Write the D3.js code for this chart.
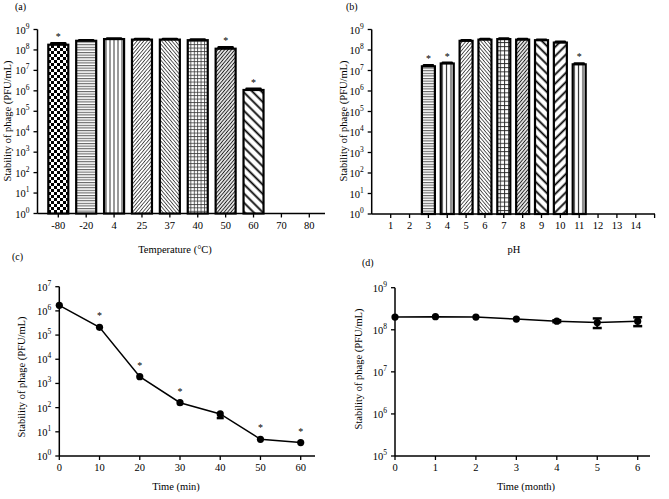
<!DOCTYPE html>
<html><head><meta charset="utf-8">
<script src="https://cdn.jsdelivr.net/npm/d3@7"></script>
<style>
body{margin:0;background:#fff;}
svg{display:block;font-family:"Liberation Serif","Times New Roman",serif;}
</style></head>
<body>
<svg id="chart" width="669" height="499"></svg>
<script>
// ---------- DATA ----------
const tempCategories = ["-80","-20","4","25","37","40","50","60","70","80"];
const tempValues = [1.8e8, 2.8e8, 3.4e8, 3.2e8, 3.2e8, 3.0e8, 1.15e8, 1.1e6, 0, 0];
const tempErrors = [0.3e8, 0.2e8, 0.2e8, 0.2e8, 0.2e8, 0.2e8, 0.2e8, 0.15e6, 0, 0];
const tempSignificant = [true, false, false, false, false, false, true, true, false, false];
const tempPatterns = ["checker","hlines","vlines","diagFine","diagFineBack","grid","diagFineDark","diagWideBack","",""];

const pHCategories = ["1","2","3","4","5","6","7","8","9","10","11","12","13","14",""];
const pHValues = [0, 0, 1.6e7, 2.2e7, 2.8e8, 3.2e8, 3.4e8, 3.2e8, 3.0e8, 2.3e8, 2.0e7, 0, 0, 0, 0];
const pHErrors = [0, 0, 0.2e7, 0.2e7, 0.2e8, 0.2e8, 0.2e8, 0.2e8, 0.2e8, 0.2e8, 0.2e7, 0, 0, 0, 0];
const pHSignificant = [false,false,true,true,false,false,false,false,false,false,true,false,false,false,false];
const pHPatterns = ["","","hlines","vlinesWide","diagFine","diagFineBack","gridBig","diagFineDark","diagWideBack","diagWide","vlinesWide","","","",""];

const timeMinutes = [0, 10, 20, 30, 40, 50, 60];
const timeValues = [1.7e6, 2.1e5, 1.9e3, 160, 55, 4.9, 3.6];
const timeErrors = [0, 0, 0, 0, 18, 0, 0];
const timeSignificant = [false, true, true, true, false, true, true];
const timeTicks = [0, 10, 20, 30, 40, 50, 60];

const monthValuesX = [0, 1, 2, 3, 4, 5, 6];
const monthValues = [2.0e8, 2.05e8, 2.0e8, 1.8e8, 1.6e8, 1.48e8, 1.6e8];
const monthErrors = [0, 0, 0, 0, 0.08e8, 0.38e8, 0.38e8];

const decadeTicks9 = [1e0,1e1,1e2,1e3,1e4,1e5,1e6,1e7,1e8,1e9];
const decadeTicks7 = [1e0,1e1,1e2,1e3,1e4,1e5,1e6,1e7];
const decadeTicksD = [1e5,1e6,1e7,1e8,1e9];

// ---------- SETUP ----------
const svg = d3.select("#chart");
const defs = svg.append("defs");

function pat(id, w, h, transform, draw){
  const p = defs.append("pattern").attr("id", id).attr("patternUnits","userSpaceOnUse")
    .attr("width", w).attr("height", h);
  if (transform) p.attr("patternTransform", transform);
  p.append("rect").attr("width", w).attr("height", h).attr("fill", "#fff");
  draw(p);
}
pat("checker", 6, 6, null, p => {
  p.append("rect").attr("x",0).attr("y",0).attr("width",3).attr("height",3).attr("fill","#000");
  p.append("rect").attr("x",3).attr("y",3).attr("width",3).attr("height",3).attr("fill","#000");
});
pat("hlines", 4, 2.6, null, p => p.append("line").attr("x1",0).attr("x2",4).attr("y1",0.6).attr("y2",0.6).attr("stroke","#444").attr("stroke-width",0.9));
pat("vlines", 4, 4, null, p => p.append("line").attr("x1",2).attr("x2",2).attr("y1",0).attr("y2",4).attr("stroke","#333").attr("stroke-width",1));
pat("vlinesWide", 4.4, 4, null, p => p.append("line").attr("x1",2.2).attr("x2",2.2).attr("y1",0).attr("y2",4).attr("stroke","#222").attr("stroke-width",1.1));
pat("diagFine", 2.6, 4, "rotate(40)", p => p.append("line").attr("x1",1.3).attr("x2",1.3).attr("y1",0).attr("y2",4).attr("stroke","#444").attr("stroke-width",0.9));
pat("diagFineBack", 2.6, 4, "rotate(-40)", p => p.append("line").attr("x1",1.3).attr("x2",1.3).attr("y1",0).attr("y2",4).attr("stroke","#444").attr("stroke-width",0.9));
pat("diagFineDark", 2.6, 4, "rotate(40)", p => {
  p.append("line").attr("x1",1.3).attr("x2",1.3).attr("y1",0).attr("y2",4).attr("stroke","#222").attr("stroke-width",1.1);
});
pat("grid", 3.4, 3.4, null, p => {
  p.append("line").attr("x1",0).attr("x2",3.4).attr("y1",0.5).attr("y2",0.5).attr("stroke","#333").attr("stroke-width",0.8);
  p.append("line").attr("x1",0.5).attr("x2",0.5).attr("y1",0).attr("y2",3.4).attr("stroke","#333").attr("stroke-width",0.8);
});
pat("gridBig", 4.2, 4.2, null, p => {
  p.append("line").attr("x1",0).attr("x2",4.2).attr("y1",0.5).attr("y2",0.5).attr("stroke","#222").attr("stroke-width",0.9);
  p.append("line").attr("x1",0.5).attr("x2",0.5).attr("y1",0).attr("y2",4.2).attr("stroke","#222").attr("stroke-width",0.9);
});
pat("diagWide", 6.5, 6.5, "rotate(45)", p => p.append("line").attr("x1",3.2).attr("x2",3.2).attr("y1",0).attr("y2",6.5).attr("stroke","#000").attr("stroke-width",1.8));
pat("diagWideBack", 6.5, 6.5, "rotate(-45)", p => p.append("line").attr("x1",3.2).attr("x2",3.2).attr("y1",0).attr("y2",6.5).attr("stroke","#000").attr("stroke-width",1.8));

function text(x, y, s, opts = {}) {
  const t = svg.append("text").attr("x", x).attr("y", y).text(s)
    .attr("font-size", opts.size || 10).attr("fill", "#000")
    .attr("text-anchor", opts.anchor || "middle");
  if (opts.rotate) t.attr("transform", `rotate(-90,${x},${y})`);
  return t;
}

function yLogAxis(y, x0, ticks) {
  const g = svg.append("g").attr("transform", `translate(${x0},0)`);
  const [r0, r1] = y.range();
  g.append("line").attr("x1",0).attr("x2",0).attr("y1",r0).attr("y2",r1).attr("stroke","#000").attr("stroke-width",1.5);
  ticks.forEach(v => {
    const yy = y(v);
    g.append("line").attr("x1",-4).attr("x2",0).attr("y1",yy).attr("y2",yy).attr("stroke","#000").attr("stroke-width",1.3);
    const t = g.append("text").attr("x",-8).attr("y",yy+4).attr("text-anchor","end").attr("font-size",10.5);
    t.append("tspan").text("10");
    t.append("tspan").attr("dy",-5).attr("font-size",7.5).text(Math.round(Math.log10(v)));
  });
}

function xAxisLine(x1, x2, y0) {
  svg.append("line").attr("x1",x1).attr("x2",x2).attr("y1",y0).attr("y2",y0).attr("stroke","#000").attr("stroke-width",1.5);
}

function barPanel(cfg) {
  const x = d3.scalePoint().domain(cfg.categories).range(cfg.xr);
  const y = d3.scaleLog().domain([1, 1e9]).range(cfg.yr);
  yLogAxis(y, cfg.axisX, decadeTicks9);
  xAxisLine(cfg.axisX, cfg.axisEnd, cfg.yr[0]);
  cfg.categories.forEach((c, i) => {
    const cx = x(c);
    svg.append("line").attr("x1",cx).attr("x2",cx).attr("y1",cfg.yr[0]).attr("y2",cfg.yr[0]+4).attr("stroke","#000").attr("stroke-width",1.3);
    if (c !== "") text(cx, cfg.yr[0] + 15, c, {size: 10.5});
    const v = cfg.values[i];
    if (v > 0) {
      const top = y(v);
      const bw = cfg.bw;
      const e = cfg.errors[i];
      const yt = y(v + e);
      svg.append("line").attr("x1",cx).attr("x2",cx).attr("y1",top).attr("y2",yt).attr("stroke","#000").attr("stroke-width",2);
      svg.append("line").attr("x1",cx-bw*0.35).attr("x2",cx+bw*0.35).attr("y1",yt).attr("y2",yt).attr("stroke","#000").attr("stroke-width",2.5).attr("stroke-linecap","round");
      svg.append("rect").attr("x", cx - bw/2).attr("y", top).attr("width", bw).attr("height", cfg.yr[0] - top)
        .attr("fill", `url(#${cfg.patterns[i]})`).attr("stroke","#000").attr("stroke-width",2.2);
      if (cfg.sig[i]) text(cx, yt - 3, "*", {size: 10});
    }
  });
}

// ---------- PANEL A ----------
barPanel({
  categories: tempCategories, values: tempValues, errors: tempErrors, sig: tempSignificant, patterns: tempPatterns,
  xr: [58.3, 309.3], yr: [213.5, 29.5], axisX: 37.5, axisEnd: 325, bw: 20
});
text(15, 10, "(a)", {size: 10, anchor: "start"});
text(175, 253, "Temperature (°C)", {size: 10.5});
text(11, 121, "Stability of phage (PFU/mL)", {size: 10.5, rotate: true});

// ---------- PANEL B ----------
barPanel({
  categories: pHCategories, values: pHValues, errors: pHErrors, sig: pHSignificant, patterns: pHPatterns,
  xr: [390.7, 654.6], yr: [214, 29.5], axisX: 371.7, axisEnd: 655, bw: 13
});
text(346, 10, "(b)", {size: 10, anchor: "start"});
text(514, 253, "pH", {size: 10.5});
text(347, 121, "Stability of phage (PFU/mL)", {size: 10.5, rotate: true});

// ---------- PANEL C ----------
{
  const x = d3.scaleLinear().domain([0, 60]).range([59.3, 300.7]);
  const y = d3.scaleLog().domain([1, 1e7]).range([456, 286.7]);
  yLogAxis(y, 59.3, decadeTicks7);
  xAxisLine(59.3, 315, 456);
  timeTicks.forEach(t => {
    svg.append("line").attr("x1",x(t)).attr("x2",x(t)).attr("y1",456).attr("y2",460).attr("stroke","#000").attr("stroke-width",1.3);
    text(x(t), 471, String(t), {size: 10.5});
  });
  const pts = timeMinutes.map((t, i) => [t, timeValues[i]]);
  svg.append("path").datum(pts).attr("d", d3.line().x(d => x(d[0])).y(d => y(d[1])))
    .attr("fill","none").attr("stroke","#000").attr("stroke-width",1.5);
  timeMinutes.forEach((t, i) => {
    const e = timeErrors[i];
    if (e > 0) {
      const yl = y(timeValues[i] - e);
      svg.append("line").attr("x1",x(t)).attr("x2",x(t)).attr("y1",y(timeValues[i])).attr("y2",yl).attr("stroke","#000").attr("stroke-width",2);
      svg.append("line").attr("x1",x(t)-3.5).attr("x2",x(t)+3.5).attr("y1",yl).attr("y2",yl).attr("stroke","#000").attr("stroke-width",2.5);
    }
    svg.append("circle").attr("cx",x(t)).attr("cy",y(timeValues[i])).attr("r",3.6).attr("fill","#000");
    if (timeSignificant[i]) text(x(t), y(timeValues[i]) - 8, "*", {size: 10});
  });
  text(12, 260, "(c)", {size: 10, anchor: "start"});
  text(176, 490, "Time (min)", {size: 10.5});
  text(25, 377, "Stability of phage (PFU/mL)", {size: 10.5, rotate: true});
}

// ---------- PANEL D ----------
{
  const x = d3.scaleLinear().domain([0, 6]).range([395, 637.7]);
  const y = d3.scaleLog().domain([1e5, 1e9]).range([456, 287.7]);
  yLogAxis(y, 395, decadeTicksD);
  xAxisLine(395, 650, 456);
  monthValuesX.forEach(t => {
    svg.append("line").attr("x1",x(t)).attr("x2",x(t)).attr("y1",456).attr("y2",460).attr("stroke","#000").attr("stroke-width",1.3);
    text(x(t), 471, String(t), {size: 10.5});
  });
  const pts = monthValuesX.map((t, i) => [t, monthValues[i]]);
  svg.append("path").datum(pts).attr("d", d3.line().x(d => x(d[0])).y(d => y(d[1])))
    .attr("fill","none").attr("stroke","#000").attr("stroke-width",1.5);
  monthValuesX.forEach((t, i) => {
    const e = monthErrors[i];
    const v = monthValues[i];
    if (e > 0) {
      const yu = y(v + e), yl = y(v - e);
      svg.append("line").attr("x1",x(t)).attr("x2",x(t)).attr("y1",yu).attr("y2",yl).attr("stroke","#000").attr("stroke-width",2);
      [yu, yl].forEach(yy => svg.append("line").attr("x1",x(t)-4.5).attr("x2",x(t)+4.5).attr("y1",yy).attr("y2",yy).attr("stroke","#000").attr("stroke-width",2.5));
    }
    svg.append("circle").attr("cx",x(t)).attr("cy",y(v)).attr("r",3.6).attr("fill","#000");
  });
  text(362, 266, "(d)", {size: 10, anchor: "start"});
  text(526, 490, "Time (month)", {size: 10.5});
  text(362, 369, "Stability of phage (PFU/mL)", {size: 10.5, rotate: true});
}
</script>
</body></html>
